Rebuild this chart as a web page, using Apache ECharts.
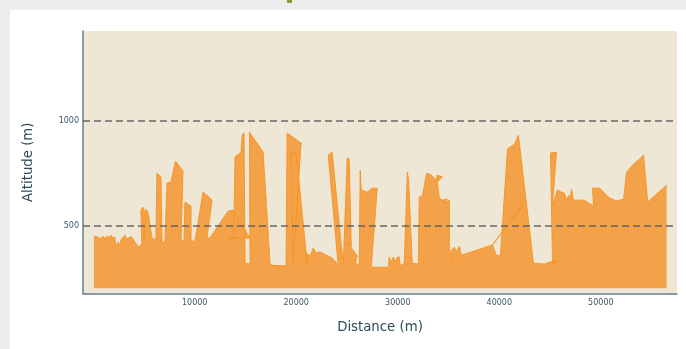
<!DOCTYPE html>
<html>
<head>
<meta charset="utf-8">
<script src="https://cdn.jsdelivr.net/npm/echarts@6/dist/echarts.min.js"></script>
<style>
  html, body { margin: 0; padding: 0; background: #eeeeee; }
  #chart { width: 686px; height: 349px; }
</style>
</head>
<body>
<div id="chart"></div>
<script>
// Track profile: distance along the route (m) and altitude (m), in recording order
const distance = [
  70, 460, 660, 960, 1150, 1350, 1550, 1750, 1940, 2140,
  2240, 2440, 2630, 2730, 3130, 3320, 3620, 3820, 4110, 4510,
  4800, 4700, 4900, 5050, 5000, 5200, 5400, 5790, 6180, 6280,
  6680, 6780, 7070, 7270, 7660, 8110, 8850, 8650, 8950, 9040,
  9640, 9640, 10030, 10820, 11310, 11710, 11210, 11510, 13280, 13780,
  15450, 13380, 13880, 13880, 13970, 14570, 14670, 14860, 14960, 15450,
  15400, 16740, 17430, 19000, 19100, 20480, 19690, 19500, 19990, 21080,
  20980, 21370, 21670, 21960, 22360, 23540, 24130, 23150, 23540, 24630,
  25020, 25220, 25420, 25020, 26010, 25810, 26200, 26300, 26400, 26990,
  27490, 27980, 27390, 29060, 29160, 29360, 29560, 29750, 29950, 30150,
  30250, 30640, 30940, 31040, 31130, 31430, 32020, 32120, 32420, 32810,
  32910, 33300, 33800, 33900, 34390, 33900, 34090, 34390, 34880, 34590,
  35080, 35080, 35380, 35280, 35570, 35770, 36070, 36260, 39320, 42380,
  39320, 39710, 40110, 40800, 41490, 41880, 43360, 44450, 44940, 45830,
  45240, 45040, 45630, 45240, 45730, 46120, 46420, 46620, 46820, 46910,
  47110, 47310, 48390, 49280, 49180, 49870, 50860, 51550, 52240, 52540,
  53320, 53820, 54210, 54310, 54610, 56480
];
const altitude = [
  453, 448, 438, 453, 438, 453, 443, 457, 443, 448,
  400, 424, 410, 434, 457, 438, 448, 448, 424, 400,
  415, 576, 590, 571, 434, 581, 566, 443, 434, 752,
  733, 424, 424, 704, 709, 809, 761, 429, 429, 614,
  595, 429, 429, 661, 642, 623, 443, 443, 571, 576,
  443, 443, 443, 543, 828, 851, 932, 942, 324, 320,
  946, 851, 315, 310, 942, 894, 329, 851, 847, 324,
  372, 358, 396, 372, 377, 348, 315, 837, 851, 315,
  823, 818, 405, 424, 358, 324, 315, 766, 671, 661,
  680, 680, 305, 305, 353, 329, 353, 329, 353, 353,
  310, 324, 756, 728, 647, 324, 320, 638, 642, 742,
  752, 742, 718, 742, 733, 709, 633, 623, 628, 609,
  623, 396, 315, 386, 400, 377, 405, 362, 410, 604,
  410, 362, 358, 866, 889, 932, 324, 320, 329, 334,
  320, 847, 851, 600, 671, 661, 656, 623, 647, 623,
  675, 623, 623, 595, 680, 680, 633, 619, 628, 756,
  799, 818, 837, 837, 614, 695
];
const baseAltitude = 205;
const xTicks = [10000, 20000, 30000, 40000, 50000];
const yTicks = [500, 1000];

const points = distance.map((d, i) => [d, altitude[i]]);

const labelColor = '#3b5864';
const axisColor = '#637f88';
const font = 'DejaVu Sans';
const plain = v => String(v);

const chart = echarts.init(document.getElementById('chart'), null, { renderer: 'canvas' });
chart.setOption({
  animation: false,
  backgroundColor: '#eeeeee',
  graphic: [
    { type: 'rect', z: -10, shape: { x: 10, y: 10, width: 676, height: 339 }, style: { fill: '#ffffff' } },
    { type: 'rect', z: -10, shape: { x: 287, y: 0, width: 5, height: 3 }, style: { fill: '#8c9c2c' } }
  ],
  grid: {
    left: 83, right: 9, top: 31, bottom: 55.5,
    show: true, backgroundColor: '#efe7d6', borderWidth: 0
  },
  xAxis: {
    type: 'value', min: -1000, max: 57500,
    name: 'Distance (m)', nameLocation: 'middle', nameGap: 28,
    nameTextStyle: { fontFamily: font, fontSize: 13.3, color: '#2e4c57' },
    axisLine: { show: true, onZero: false, lineStyle: { color: axisColor, width: 1.5 } },
    axisTick: { show: false },
    splitLine: { show: false },
    axisLabel: { customValues: xTicks, formatter: plain, fontFamily: font, fontSize: 8, color: labelColor, margin: 5 }
  },
  yAxis: {
    type: 'value', min: 180, max: 1426,
    name: 'Altitude (m)', nameLocation: 'middle', nameGap: 48,
    nameTextStyle: { fontFamily: font, fontSize: 13.3, color: '#2e4c57' },
    axisLine: { show: true, onZero: false, lineStyle: { color: axisColor, width: 1.5 } },
    axisTick: { show: false },
    splitLine: { show: false },
    axisLabel: { customValues: yTicks, formatter: plain, fontFamily: font, fontSize: 8, color: labelColor, margin: 4 }
  },
  series: [{
    type: 'line',
    data: points,
    showSymbol: false,
    symbol: 'none',
    smooth: false,
    lineStyle: { color: '#f7921e', width: 1, opacity: 0.9 },
    areaStyle: { color: '#f3a24a', opacity: 1, origin: baseAltitude },
    markLine: {
      silent: true,
      symbol: 'none',
      label: { show: false },
      lineStyle: { color: '#5a5a5a', width: 1.5, type: [7, 4], opacity: 0.9 },
      data: yTicks.map(v => ({ yAxis: v }))
    },
    z: 2
  }]
});
</script>
</body>
</html>
